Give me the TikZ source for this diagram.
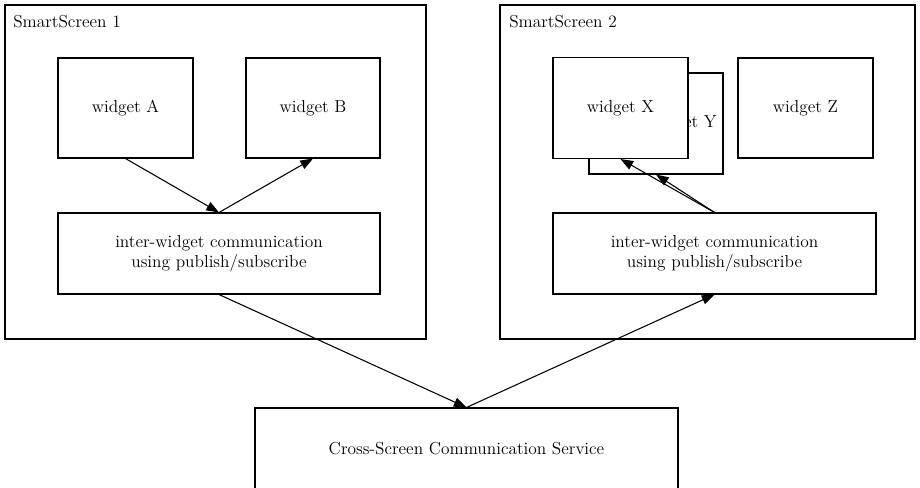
\documentclass[tikz,border=0pt]{standalone}
\usetikzlibrary{arrows.meta}
\def\px{0.75pt}
\tikzset{
  box/.style={draw, line width=0.8pt, rectangle, fill=white, inner sep=0pt,
    font=\fontsize{13}{15.5}\selectfont, align=center},
  screen/.style={draw, line width=0.8pt, rectangle, inner sep=0pt},
  screenlabel/.style={anchor=west, inner sep=0pt, font=\fontsize{13}{15.5}\selectfont},
  flow/.style={line width=0.8pt, -{Triangle[length=9.5pt, width=7pt]}},
}
\begin{document}
\begin{tikzpicture}[x=\px, y=-\px]
\useasboundingbox (0,0) rectangle (920,488);
\clip (0,0) rectangle (920,488);

% screen containers
\node[screen, minimum width=421*\px, minimum height=334*\px] (s1) at (215.5,172) {};
\node[screenlabel] (s1l) at (13,22) {SmartScreen 1};
\node[screen, minimum width=415*\px, minimum height=334*\px] (s2) at (707.5,172) {};
\node[screenlabel] (s2l) at (509,22) {SmartScreen 2};

% widgets on screen 1
\node[box, minimum width=135*\px, minimum height=100*\px] (wa) at (125.5,108) {widget A};
\node[box, minimum width=134*\px, minimum height=100*\px] (wb) at (313,108) {widget B};
\node[box, minimum width=322*\px, minimum height=81*\px] (p1) at (219,253.5)
  {inter-widget communication\\using publish/subscribe};

% widgets on screen 2 (Y sits behind X, its caption partly covered)
\node[box, minimum width=134*\px, minimum height=101*\px] (wy) at (656,123.5) {};
\node[inner sep=0pt, font=\fontsize{13}{15.5}\selectfont] (wyl) at (683,123) {widget Y};
\node[box, minimum width=135*\px, minimum height=101*\px] (wx) at (620.5,108) {widget X};
\node[box, minimum width=135*\px, minimum height=100*\px] (wz) at (805.5,108) {widget Z};
\node[box, minimum width=323*\px, minimum height=81*\px] (p2) at (714.5,253.5)
  {inter-widget communication\\using publish/subscribe};

% shared service
\node[box, minimum width=423*\px, minimum height=82*\px] (cs) at (466.5,449)
  {Cross-Screen Communication Service};

% message flows
\draw[flow] (wa.south) -- (p1.north);
\draw[flow] (p1.north) -- (wb.south);
\draw[flow] (p2.north) -- (wx.south);
\draw[flow] (p2.north) -- (wy.south);
\draw[flow] (p1.south) -- (cs.north);
\draw[flow] (cs.north) -- (p2.south);
\end{tikzpicture}
\end{document}
